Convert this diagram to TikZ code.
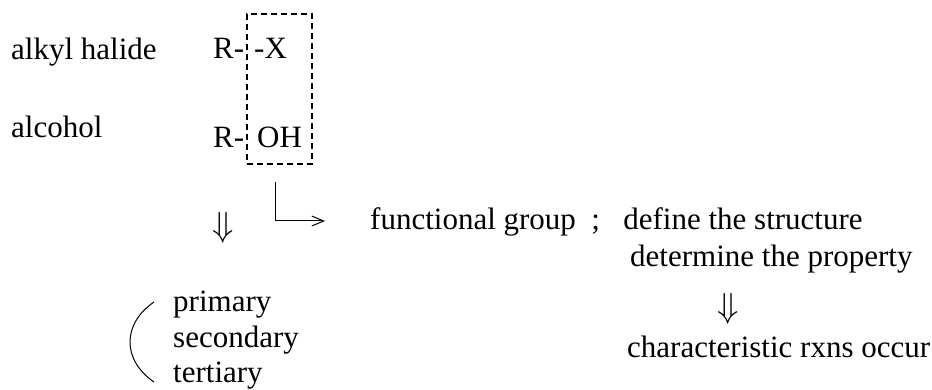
\documentclass[tikz,border=0pt]{standalone}
\usepackage{fontspec}
\setmainfont{Liberation Serif}
\usetikzlibrary{arrows.meta}

\newcommand{\dnarr}{\scalebox{1.4}{$\Downarrow$}}
\tikzset{
  txt/.style={anchor=base west, inner sep=0pt, font=\fontsize{31}{36}\selectfont},
  dblarrow/.style={inner sep=0pt, font=\fontsize{31}{36}\selectfont},
  grpbox/.style={draw, dash pattern=on 6pt off 4pt, line width=1.2pt, inner sep=0pt},
  arr/.style={line width=1pt, -{Straight Barb[length=12pt,width=10pt]}}
}

\begin{document}
\begin{tikzpicture}[x=1pt, y=-1pt]
\useasboundingbox (0,0) rectangle (932,390);

% names
\node[txt] (halide) at (11,60) {alkyl halide};
\node[txt] (alcohol) at (11,138) {alcohol};
% formulas
\node[txt] (r1) at (213,59) {R-};
\node[txt] (x) at (254,59) {-X};
\node[txt] (r2) at (213,148) {R-};
\node[txt] (oh) at (257,148) {OH};
\node[grpbox, minimum width=65pt, minimum height=150pt] (box) at (279.5,89) {};

% functional group
\coordinate (turn) at (275,182);
\coordinate (tip) at (325,221);
\draw[arr] (turn) |- (tip);
\node[txt] (func) at (370,230) {functional group\ \ ;\ \ \ define the structure};
\node[txt] (prop) at (630,267) {determine the property};
\node[dblarrow] (down2) at (728,309) {\dnarr};
\node[txt] (rxns) at (627,357) {characteristic rxns occur};

% classes
\node[dblarrow] (down1) at (223,228) {\dnarr};
\node[txt] (prim) at (173,312) {primary};
\node[txt] (sec) at (173,347) {secondary};
\node[txt] (tert) at (173,382) {tertiary};
\draw[line width=1pt] (154,302) .. controls (122,324) and (122,360) .. (154,382);

\end{tikzpicture}
\end{document}
